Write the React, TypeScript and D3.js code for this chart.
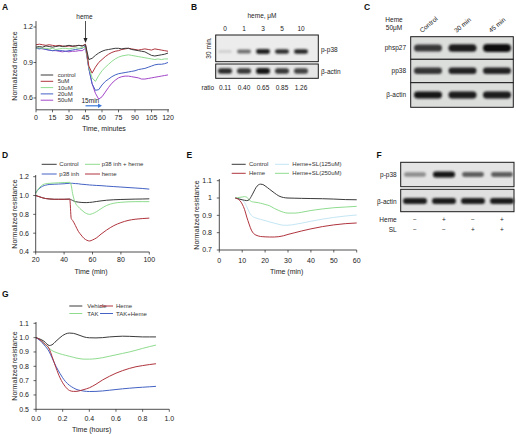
import React from "react";
import * as d3 from "d3";

const FONT = "'Liberation Sans', Arial, Helvetica, sans-serif";

// ---------- Panel A data ----------
const aTime = [0,3,6,9,12,15,18,21,24,27,30,33,36,39,42,45,48,51,54,57,60,63,66,69,72,75,78,81,84,87,90,93,96,99,102,105,108,111,114,117,120];
const aControl = [1.03,1.035,1.03,1.04,1.035,1.03,1.035,1.04,1.035,1.04,1.045,1.04,1.04,1.045,1.04,1.05,
  0.925,0.935,0.96,0.98,0.995,1.005,1.01,1.015,1.02,1.02,1.015,1.02,1.02,1.01,1.005,1.0,0.995,0.99,0.975,0.96,0.955,0.96,0.965,0.97,0.98];
const a5uM = [1.05,1.055,1.05,1.045,1.05,1.045,1.04,1.045,1.04,1.035,1.04,1.035,1.04,1.045,1.04,1.055,
  0.87,0.81,0.86,0.9,0.925,0.95,0.97,0.985,0.995,1.0,1.01,1.015,1.02,1.015,1.01,1.005,1.01,1.015,1.01,1.005,1.015,1.01,1.005,1.0,0.995];
const a10uM = [1.02,1.025,1.02,1.02,1.015,1.02,1.01,1.015,1.02,1.02,1.015,1.02,1.025,1.02,1.025,1.03,
  0.86,0.77,0.74,0.79,0.83,0.86,0.885,0.91,0.93,0.945,0.955,0.96,0.965,0.96,0.955,0.95,0.945,0.94,0.935,0.93,0.925,0.93,0.925,0.93,0.93];
const a20uM = [1.02,1.015,1.02,1.01,1.005,1.0,1.005,1.0,1.0,0.995,1.0,1.005,1.01,1.015,1.02,1.04,
  0.85,0.72,0.665,0.67,0.71,0.74,0.76,0.78,0.795,0.805,0.81,0.815,0.82,0.825,0.83,0.84,0.845,0.85,0.86,0.87,0.88,0.885,0.885,0.89,0.9];
const a50uM = [1.02,1.02,1.015,1.01,1.005,1.0,1.0,0.995,0.99,0.995,0.99,0.995,0.995,1.0,1.0,1.02,
  0.85,0.72,0.64,0.59,0.61,0.65,0.69,0.725,0.75,0.77,0.78,0.785,0.785,0.78,0.775,0.77,0.76,0.76,0.765,0.77,0.775,0.78,0.785,0.79,0.795];
const aXTicks = [0,15,30,45,60,75,90,105,120];
const aYTicks = [0.6,0.9,1.2];
const aLegend = ["control","5uM","10uM","20uM","50uM"];

// ---------- Panel B data ----------
const bLanes = ["0","1","3","5","10"];
const bPp38 = [0.12,0.55,0.9,0.85,0.88];
const bActin = [0.85,0.8,0.95,0.8,0.75];
const bRatio = ["0.11","0.40","0.65","0.85","1.26"];

// ---------- Panel C data ----------
const cLanes = ["Control","30 min","45 min"];
const cPhsp27 = [0.78,0.92,1.0];
const cPp38 = [0.8,0.88,0.88];
const cActin = [0.95,0.93,0.93];

// ---------- Panel D data ----------
const dTime = [20,21,23,25,27,30,33,36,40,44,45,46,47,48,50,52,54,56,58,60,63,66,70,75,80,85,90,95,100];
const dControl = [1.0,0.995,0.985,0.975,0.968,0.963,0.96,0.96,0.96,0.962,0.955,0.948,0.94,0.935,0.93,0.927,0.925,0.925,0.927,0.93,0.937,0.943,0.95,0.955,0.958,0.96,0.962,0.963,0.965];
const dP38inh = [1.03,1.05,1.08,1.1,1.11,1.118,1.12,1.122,1.125,1.13,1.13,1.13,1.128,1.127,1.125,1.12,1.118,1.115,1.112,1.11,1.107,1.105,1.1,1.095,1.09,1.085,1.08,1.075,1.068];
const dP38inhHeme = [1.02,1.05,1.09,1.115,1.125,1.13,1.133,1.135,1.138,1.14,1.11,1.02,0.96,0.92,0.88,0.85,0.825,0.807,0.8,0.808,0.83,0.86,0.895,0.918,0.928,0.933,0.935,0.935,0.935];
const dHeme = [1.0,0.995,0.985,0.975,0.968,0.963,0.96,0.96,0.96,0.962,0.757,0.735,0.71,0.68,0.62,0.58,0.545,0.525,0.517,0.528,0.552,0.59,0.634,0.68,0.712,0.735,0.748,0.755,0.76];
const dXTicks = [20,40,60,80,100];
const dYTicks = [0.4,0.6,0.8,1.0,1.2];

// ---------- Panel E data ----------
const eTime = [7,8,9,10,11,12,13,14,15,16,17,18,19,20,22,24,26,28,30,33,36,40,45,50,55,60];
const eControl = [1.0,0.997,0.993,0.99,0.987,0.985,0.99,1.01,1.035,1.06,1.075,1.08,1.078,1.07,1.05,1.03,1.012,1.003,1.0,0.999,0.998,0.997,0.996,0.994,0.991,0.99];
const eHeme = [1.0,0.995,0.985,0.965,0.935,0.89,0.85,0.815,0.795,0.786,0.781,0.778,0.777,0.776,0.775,0.775,0.777,0.782,0.79,0.8,0.81,0.822,0.835,0.845,0.852,0.856];
const eSL125 = [1.0,0.998,0.995,0.99,0.975,0.95,0.92,0.9,0.89,0.885,0.88,0.877,0.873,0.87,0.862,0.855,0.848,0.843,0.843,0.848,0.855,0.866,0.878,0.888,0.896,0.902];
const eSL250 = [1.0,1.002,1.004,1.006,1.008,1.005,0.99,0.98,0.977,0.975,0.973,0.97,0.967,0.963,0.955,0.94,0.928,0.918,0.913,0.913,0.918,0.928,0.937,0.944,0.948,0.952];
const eXTicks = [0,10,20,30,40,50,60];
const eYTicks = [0.7,0.8,0.9,1,1.1];

// ---------- Panel F data ----------
const fLanes = ["1","2","3","4"];
const fPp38 = [0.4,0.97,0.62,0.62];
const fActin = [0.92,0.92,0.92,0.92];
const fHeme = ["−","+","−","+"];
const fSL = ["−","−","+","+"];

// ---------- Panel G data ----------
const gTime = [0,0.03,0.06,0.1,0.12,0.15,0.18,0.2,0.22,0.25,0.28,0.3,0.33,0.36,0.4,0.45,0.5,0.55,0.6,0.65,0.7,0.75,0.8,0.85,0.9];
const gVehicle = [1.0,0.99,0.975,0.945,0.95,0.975,1.0,1.015,1.025,1.032,1.03,1.025,1.015,1.005,0.999,0.998,1.0,1.005,1.008,1.01,1.009,1.007,1.005,1.005,1.005];
const gTAK = [1.0,0.985,0.96,0.925,0.91,0.897,0.887,0.882,0.877,0.87,0.863,0.858,0.853,0.85,0.85,0.853,0.86,0.87,0.88,0.89,0.9,0.912,0.925,0.937,0.948];
const gHeme = [1.0,0.985,0.96,0.92,0.87,0.79,0.72,0.685,0.658,0.632,0.625,0.625,0.63,0.638,0.65,0.675,0.705,0.73,0.752,0.77,0.785,0.797,0.805,0.812,0.818];
const gTAKHeme = [1.0,0.98,0.95,0.9,0.86,0.8,0.75,0.72,0.695,0.668,0.65,0.64,0.632,0.627,0.624,0.625,0.628,0.633,0.638,0.643,0.647,0.651,0.654,0.657,0.66];
const gXTicks = [0,0.2,0.4,0.6,0.8,1.0];
const gYTicks = [0.5,0.6,0.7,0.8,0.9,1.0,1.1];

const BLACK = "#3a3a3a";
const RED = "#b0343e";
const GREEN = "#8fdc8f";
const BLUE = "#4462c4";
const PURPLE = "#a347c9";
const LIGHTBLUE = "#c4e6f4";

type Line = { t: number[]; v: number[]; color: string };

function LinePanel(p: {
  x: d3.ScaleLinear<number, number>;
  y: d3.ScaleLinear<number, number>;
  xTicks: number[]; yTicks: number[];
  xFmt: (n: number) => string; yFmt: (n: number) => string;
  yTop: number; xRight: number;
  lines: Line[]; curve: d3.CurveFactory;
  xTitle: string; xTitleX: number; xTitleY: number;
  yTitleX: number; yTitleY: number;
  xLabelY: number; yLabelX: number; fs: number;
}) {
  const x0 = p.x.range()[0];
  const y0 = p.y.range()[0];
  const mk = (s: Line) =>
    d3.line<number>().x((_, i) => p.x(s.t[i])).y((d) => p.y(d)).curve(p.curve)(s.v) || "";
  return (
    <g>
      {p.lines.map((s, i) => (
        <path key={i} d={mk(s)} fill="none" stroke={s.color} strokeWidth={1} strokeLinejoin="round" />
      ))}
      <line x1={x0} x2={x0} y1={p.yTop} y2={y0} stroke="#222" strokeWidth={0.8} />
      <line x1={x0} x2={p.xRight} y1={y0} y2={y0} stroke="#222" strokeWidth={0.8} />
      {p.yTicks.map((t) => (
        <g key={"y" + t}>
          <line x1={x0 - 2.5} x2={x0} y1={p.y(t)} y2={p.y(t)} stroke="#222" strokeWidth={0.7} />
          <text x={p.yLabelX} y={p.y(t)} dy="0.35em" textAnchor="end" fontSize={p.fs} fill="#222">{p.yFmt(t)}</text>
        </g>
      ))}
      {p.xTicks.map((t) => (
        <g key={"x" + t}>
          <line x1={p.x(t)} x2={p.x(t)} y1={y0} y2={y0 + 2.5} stroke="#222" strokeWidth={0.7} />
          <text x={p.x(t)} y={p.xLabelY} textAnchor="middle" fontSize={p.fs} fill="#222">{p.xFmt(t)}</text>
        </g>
      ))}
      <text x={p.xTitleX} y={p.xTitleY} textAnchor="middle" fontSize={p.fs} fill="#222">{p.xTitle}</text>
      <text transform={`translate(${p.yTitleX},${p.yTitleY}) rotate(-90)`} textAnchor="middle" fontSize={p.fs} fill="#222">
        Normalized resistance
      </text>
    </g>
  );
}

function Legend(p: { items: { label: string; color: string }[]; cols: { lx: number; tx: number }[]; rows: number[]; lineW: number; fs: number; colMajor?: boolean }) {
  return (
    <g>
      {p.items.map((it, i) => {
        const nr = p.rows.length;
        const c = p.colMajor ? Math.floor(i / nr) : i % p.cols.length;
        const r = p.colMajor ? i % nr : Math.floor(i / p.cols.length);
        const col = p.cols[c];
        const y = p.rows[r];
        return (
          <g key={i}>
            <line x1={col.lx} x2={col.lx + p.lineW} y1={y} y2={y} stroke={it.color} strokeWidth={1} />
            <text x={col.tx} y={y} dy="0.35em" fontSize={p.fs} fill="#333">{it.label}</text>
          </g>
        );
      })}
    </g>
  );
}

function BlotRow(p: {
  x: number; y: number; w: number; h: number;
  lanes: d3.ScalePoint<string>; names: string[];
  vals: number[]; bandW: number; bandH: number; bandY: number; bg: string;
}) {
  const col = d3.interpolateRgb(p.bg, "#0b0b0b");
  return (
    <g>
      <rect x={p.x} y={p.y} width={p.w} height={p.h} fill={p.bg} stroke="#1a1a1a" strokeWidth={1} />
      {p.names.map((n, i) => {
        const v = p.vals[i];
        const bh = p.bandH * (0.55 + 0.45 * v);
        const cx = p.lanes(n) as number;
        return (
          <rect key={n} x={cx - p.bandW / 2} y={p.bandY - bh / 2} width={p.bandW} height={bh}
            rx={bh / 2} fill={col(v)} filter="url(#bandBlur)" />
        );
      })}
    </g>
  );
}

export default function App() {
  // scales
  const xA = d3.scaleLinear().domain([0, 120]).range([36, 168]);
  const yA = d3.scaleLinear().domain([0.5, 1.25]).range([109.8, 21.1]);
  const xD = d3.scaleLinear().domain([20, 100]).range([35.7, 149.3]);
  const yD = d3.scaleLinear().domain([0.4, 1.2]).range([252, 176.7]);
  const xE = d3.scaleLinear().domain([0, 60]).range([219.3, 356.7]);
  const yE = d3.scaleLinear().domain([0.7, 1.1]).range([250, 180.7]);
  const xG = d3.scaleLinear().domain([0, 1]).range([36, 169.3]);
  const yG = d3.scaleLinear().domain([0.5, 1.1]).range([409.3, 323.3]);

  const laneB = d3.scalePoint<string>().domain(bLanes).range([225, 301]);
  const laneC = d3.scalePoint<string>().domain(cLanes).range([428, 497]);
  const laneF = d3.scalePoint<string>().domain(fLanes).range([415, 502]);

  const aColors = [BLACK, RED, GREEN, BLUE, PURPLE];
  const aData = [aControl, a5uM, a10uM, a20uM, a50uM];
  const aLines: Line[] = [4, 3, 2, 1, 0].map((i) => ({ t: aTime, v: aData[i], color: aColors[i] }));

  const f1 = (n: number) => n.toFixed(1);
  const fE = (n: number) => String(n);

  const heme45 = xA(45);

  return (
    <svg width={516} height={434} style={{ position: "absolute", left: 0, top: 0, background: "#fff" }} fontFamily={FONT}>
      <defs>
        <filter id="bandBlur" x="-30%" y="-80%" width="160%" height="260%">
          <feGaussianBlur stdDeviation="0.8" />
        </filter>
      </defs>
      <rect x={0} y={0} width={516} height={434} fill="#fff" />

      {/* Panel letters */}
      {[["A", 2, 9.5], ["B", 191, 9.5], ["C", 364, 9.5], ["D", 2, 157.5], ["E", 186.5, 157.5], ["F", 376.5, 157.5], ["G", 2, 297]].map(([l, x, y]) => (
        <text key={l as string} x={x as number} y={y as number} fontSize={8.5} fontWeight="bold" fill="#111">{l}</text>
      ))}

      {/* ===== Panel A ===== */}
      <LinePanel x={xA} y={yA} xTicks={aXTicks} yTicks={aYTicks} xFmt={(n) => String(n)} yFmt={f1}
        yTop={21.1} xRight={169} lines={aLines} curve={d3.curveLinear}
        xTitle="Time, minutes" xTitleX={104} xTitleY={130.5} yTitleX={16.5} yTitleY={66}
        xLabelY={120} yLabelX={33} fs={7} />
      <text x={heme45 - 1} y={19} textAnchor="middle" fontSize={6.5} fill="#222">heme</text>
      <line x1={heme45} x2={heme45} y1={21} y2={39} stroke="#222" strokeWidth={0.8} />
      <path d={`M${heme45 - 2},${38} L${heme45 + 2},${38} L${heme45},${43} Z`} fill="#222" />
      <text x={heme45 - 4} y={103} fontSize={6.5} fill="#222">15min</text>
      <line x1={xA(45)} x2={xA(60) - 3} y1={105.8} y2={105.8} stroke="#3b78d8" strokeWidth={1.2} />
      <path d={`M${xA(60) - 4},${103.6} L${xA(60) - 4},${108} L${xA(60)},${105.8} Z`} fill="#3b78d8" />
      <Legend items={aLegend.map((l, i) => ({ label: l, color: aColors[i] }))}
        cols={[{ lx: 40.7, tx: 57.7 }]} rows={[75, 81.3, 87.6, 93.9, 100.2]} lineW={12.5} fs={6} />

      {/* ===== Panel B ===== */}
      <text x={262} y={17.5} textAnchor="middle" fontSize={6.5} fill="#222">heme, μM</text>
      {bLanes.map((l) => (
        <text key={l} x={laneB(l)} y={30.5} textAnchor="middle" fontSize={6.5} fill="#222">{l}</text>
      ))}
      <BlotRow x={215.7} y={35} w={102.6} h={26.7} lanes={laneB} names={bLanes} vals={bPp38} bandW={14} bandH={5} bandY={51.5} bg="#ececec" />
      <BlotRow x={215.7} y={64} w={102.6} h={14.3} lanes={laneB} names={bLanes} vals={bActin} bandW={14} bandH={6} bandY={71} bg="#e6e6e6" />
      <text transform="translate(210.5,48) rotate(-90)" textAnchor="middle" fontSize={6.5} fill="#222">30 min.</text>
      <text x={321} y={52.3} fontSize={6.5} fill="#222">p-p38</text>
      <text x={321} y={73.5} fontSize={6.5} fill="#222">β-actin</text>
      <text x={201.5} y={89.5} fontSize={6.5} fill="#222">ratio</text>
      {bLanes.map((l, i) => (
        <text key={l} x={laneB(l)} y={89.5} textAnchor="middle" fontSize={6.5} fill="#222">{bRatio[i]}</text>
      ))}

      {/* ===== Panel C ===== */}
      <text x={394} y={21.5} textAnchor="middle" fontSize={6.5} fill="#222">Heme</text>
      <text x={394} y={30} textAnchor="middle" fontSize={6.5} fill="#222">50μM</text>
      {cLanes.map((l) => (
        <text key={l} transform={`translate(${(laneC(l) as number) - 6},33) rotate(-40)`} fontSize={6.5} fill="#222">{l}</text>
      ))}
      <BlotRow x={410.7} y={36.7} w={102.6} h={22.6} lanes={laneC} names={cLanes} vals={cPhsp27} bandW={28} bandH={8} bandY={48} bg="#dcdedc" />
      <BlotRow x={410.7} y={59.3} w={102.6} h={23.4} lanes={laneC} names={cLanes} vals={cPp38} bandW={28} bandH={7} bandY={70.8} bg="#dcdedc" />
      <BlotRow x={410.7} y={82.7} w={102.6} h={24.6} lanes={laneC} names={cLanes} vals={cActin} bandW={28} bandH={7} bandY={95} bg="#dcdedc" />
      <text x={406} y={50.3} textAnchor="end" fontSize={6.5} fill="#222">phsp27</text>
      <text x={406} y={73.3} textAnchor="end" fontSize={6.5} fill="#222">pp38</text>
      <text x={406} y={96.8} textAnchor="end" fontSize={6.5} fill="#222">β-actin</text>

      {/* ===== Panel D ===== */}
      <LinePanel x={xD} y={yD} xTicks={dXTicks} yTicks={dYTicks} xFmt={(n) => String(n)} yFmt={f1}
        yTop={175} xRight={149.3} curve={d3.curveMonotoneX}
        lines={[
          { t: dTime, v: dP38inh, color: BLUE },
          { t: dTime, v: dControl, color: BLACK },
          { t: dTime, v: dP38inhHeme, color: GREEN },
          { t: dTime, v: dHeme, color: RED },
        ]}
        xTitle="Time (min)" xTitleX={91} xTitleY={274} yTitleX={16.5} yTitleY={214}
        xLabelY={261.5} yLabelX={29} fs={7} />
      <Legend items={[
        { label: "Control", color: BLACK }, { label: "p38 inh + heme", color: GREEN },
        { label: "p38 inh", color: BLUE }, { label: "heme", color: RED },
      ]} cols={[{ lx: 41.7, tx: 59.3 }, { lx: 85, tx: 101.7 }]} rows={[164.3, 174]} lineW={15} fs={6} />

      {/* ===== Panel E ===== */}
      <LinePanel x={xE} y={yE} xTicks={eXTicks} yTicks={eYTicks} xFmt={(n) => String(n)} yFmt={fE}
        yTop={179} xRight={356.7} curve={d3.curveMonotoneX}
        lines={[
          { t: eTime, v: eSL125, color: LIGHTBLUE },
          { t: eTime, v: eSL250, color: GREEN },
          { t: eTime, v: eControl, color: BLACK },
          { t: eTime, v: eHeme, color: RED },
        ]}
        xTitle="Time (min)" xTitleX={286.7} xTitleY={274} yTitleX={198.5} yTitleY={215}
        xLabelY={262.5} yLabelX={212} fs={7} />
      <Legend items={[
        { label: "Control", color: BLACK }, { label: "Heme+SL(125uM)", color: LIGHTBLUE },
        { label: "Heme", color: RED }, { label: "Heme+SL(250uM)", color: GREEN },
      ]} cols={[{ lx: 231.7, tx: 249 }, { lx: 275, tx: 292.3 }]} rows={[164.3, 173.3]} lineW={14} fs={6} />

      {/* ===== Panel F ===== */}
      <BlotRow x={400.7} y={162.3} w={113.3} h={24.4} lanes={laneF} names={fLanes} vals={fPp38} bandW={22} bandH={6} bandY={174.5} bg="#e4e4e4" />
      <BlotRow x={400.7} y={189.3} w={113.3} h={22.4} lanes={laneF} names={fLanes} vals={fActin} bandW={24} bandH={6} bandY={201} bg="#e0e0e0" />
      <text x={396.7} y={176.8} textAnchor="end" fontSize={6.5} fill="#222">p-p38</text>
      <text x={396.7} y={203.6} textAnchor="end" fontSize={6.5} fill="#222">β-actin</text>
      <text x={396.7} y={221.6} textAnchor="end" fontSize={6.5} fill="#222">Heme</text>
      <text x={396.7} y={231.6} textAnchor="end" fontSize={6.5} fill="#222">SL</text>
      {fLanes.map((l, i) => (
        <g key={l}>
          <text x={laneF(l)} y={221.6} textAnchor="middle" fontSize={6.5} fill="#222">{fHeme[i]}</text>
          <text x={laneF(l)} y={231.6} textAnchor="middle" fontSize={6.5} fill="#222">{fSL[i]}</text>
        </g>
      ))}

      {/* ===== Panel G ===== */}
      <LinePanel x={xG} y={yG} xTicks={gXTicks} yTicks={gYTicks} xFmt={f1} yFmt={f1}
        yTop={322} xRight={169.3} curve={d3.curveMonotoneX}
        lines={[
          { t: gTime, v: gTAK, color: GREEN },
          { t: gTime, v: gVehicle, color: BLACK },
          { t: gTime, v: gTAKHeme, color: BLUE },
          { t: gTime, v: gHeme, color: RED },
        ]}
        xTitle="Time (hours)" xTitleX={91.7} xTitleY={431.5} yTitleX={16.5} yTitleY={366}
        xLabelY={421} yLabelX={29} fs={7} />
      <Legend items={[
        { label: "Vehicle", color: BLACK }, { label: "Heme", color: RED },
        { label: "TAK", color: GREEN }, { label: "TAK+Heme", color: BLUE },
      ]} cols={[{ lx: 69.3, tx: 87.3 }, { lx: 100, tx: 116 }]} rows={[306, 313.5]} lineW={13} fs={6} />
    </svg>
  );
}
